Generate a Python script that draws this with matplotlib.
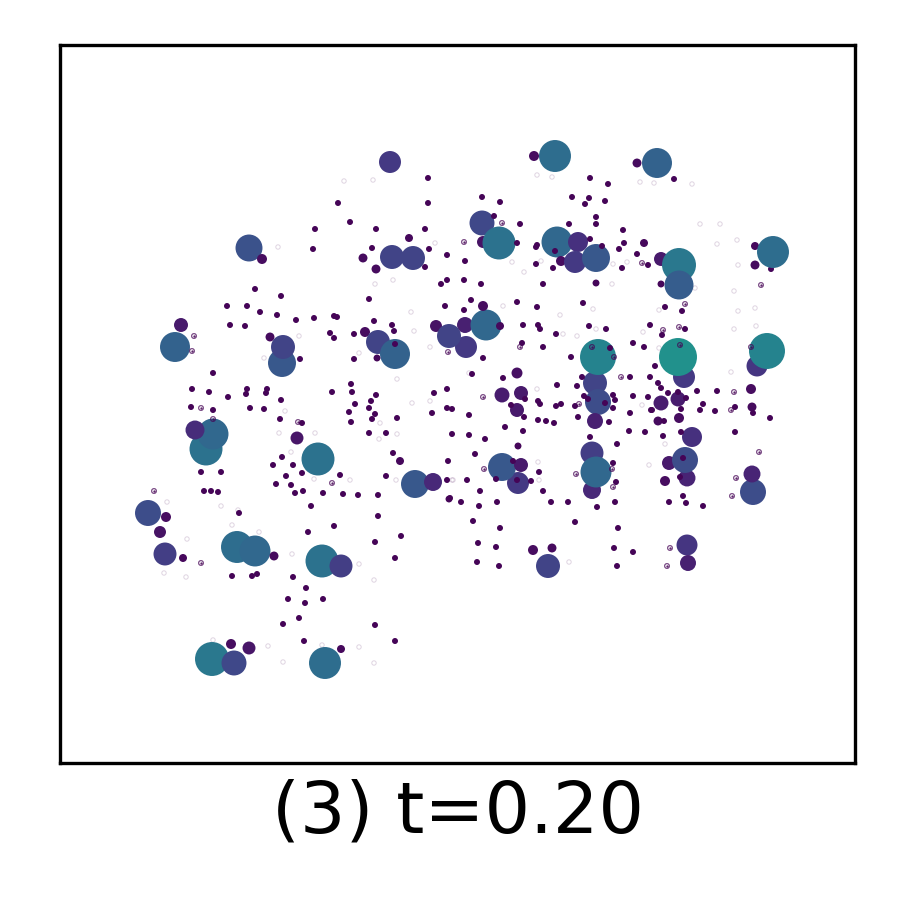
import matplotlib
matplotlib.use("Agg")
import matplotlib.pyplot as plt

# values
# large clusters: weight drives both area and colour
big_x = [390, 249, 262, 392, 413, 409, 363, 376, 181, 175, 270, 282, 283, 300, 365, 378, 395, 394, 377,
         436, 465, 466, 449, 483, 482, 486, 499, 500, 534, 555, 637, 657, 674,
         557, 561, 578, 575, 596, 624, 644, 661, 661, 679, 679, 755, 771, 773, 755, 483,
         595, 598, 598, 757, 767, 684, 678, 517, 502, 521, 517, 751, 752, 661, 678, 658, 596,
         595, 658, 679, 692, 592, 592, 596, 518, 502, 521, 669, 687, 685, 665, 753, 752,
         687, 688, 533, 552, 548, 518, 206, 213, 195, 297, 318, 400, 415, 433, 449,
         148, 166, 160, 165, 183, 237, 255, 274, 322, 341, 212, 234, 231, 249, 325, 341]
big_y = [162, 248, 259, 257, 258, 238, 258, 269, 325, 347, 337, 363, 347, 359, 332, 342, 354, 331, 358,
         326, 325, 347, 336, 242, 223, 325, 243, 326, 156, 156, 163, 163, 179,
         242, 261, 242, 262, 258, 243, 243, 259, 284, 265, 285, 246, 269, 252, 265, 306,
         383, 402, 357, 366, 351, 377, 357, 373, 395, 393, 410, 389, 407, 403, 399, 383, 283,
         421, 421, 418, 437, 453, 490, 472, 483, 467, 465, 463, 478, 460, 481, 492, 474,
         545, 563, 550, 548, 566, 446, 449, 434, 430, 438, 459, 461, 484, 482, 499,
         513, 517, 532, 554, 558, 547, 551, 556, 561, 566, 659, 663, 644, 648, 663, 649]
big_w = [121, 182, 25, 144, 144, 16, 20, 20, 49, 225, 20, 196, 144, 9, 25, 144, 225, 9, 12,
         36, 64, 121, 144, 36, 156, 240, 272, 16, 25, 256, 20, 225, 9,
         240, 25, 100, 121, 196, 9, 16, 49, 12, 289, 210, 16, 9, 256, 20, 25,
         144, 169, 324, 110, 324, 121, 361, 30, 56, 49, 49, 25, 20, 56, 56, 9, 12,
         64, 20, 25, 100, 132, 81, 240, 121, 196, 49, 49, 72, 169, 25, 169, 72,
         110, 64, 25, 20, 144, 12, 272, 240, 90, 42, 272, 16, 196, 81, 12,
         169, 25, 36, 132, 16, 256, 240, 20, 272, 132, 289, 156, 25, 42, 256, 16]

# single small points
dot_x = [428, 428, 338, 350, 315, 376, 425, 313, 372, 429, 447, 425, 447, 441, 255, 281, 369, 227, 247, 260,
         277, 296, 314, 334, 337, 445, 374, 392, 230, 245, 330, 334, 354, 395, 354, 213, 351, 192, 209, 247,
         246, 267, 266, 228, 332, 352, 376, 371, 434, 447, 281, 355, 369, 191, 250, 264, 447, 452, 213,
         349, 375, 372, 397, 432, 280, 302, 351, 369, 386, 452, 393, 448, 282, 273, 293, 302, 286, 340, 386,
         447, 201, 221, 276, 291, 303, 295, 323, 343, 358, 378, 204, 211, 218, 311, 378, 239, 334, 308, 401,
         375, 395, 232, 252, 257, 293, 306, 288, 305, 323, 299, 283, 375, 304, 395,
         590, 608, 482, 500, 572, 589, 585, 605, 596, 494, 520, 569, 596, 623, 590, 619, 637, 602, 536, 537,
         517, 555, 465, 536, 553, 622, 648, 464, 481, 543, 471, 464, 517, 537, 583, 665, 682, 523, 538, 540,
         556, 589, 606, 650, 685, 662, 633, 644, 522, 543, 610, 483, 571, 655, 472, 503, 582, 630, 650, 557,
         577, 661, 668, 678, 697, 717, 633, 648, 686, 525, 538, 540, 561, 556, 575, 584, 588, 605, 613, 615,
         613, 511, 703, 735, 651, 681, 700,
         469, 524, 538, 546, 554, 578, 609, 630, 652, 664, 715, 753, 770, 505, 523, 469, 485, 590, 617,
         629, 645, 663, 681, 735, 475, 513, 613, 683, 539, 467, 496, 517, 531, 616, 680, 480, 543, 450, 461,
         479, 497, 551, 568, 597, 615, 683, 669, 686, 703, 473, 500, 575, 618, 478, 496, 614, 633, 477, 499, 617]
dot_y = [178, 203, 203, 222, 229, 229, 229, 249, 248, 249, 255, 267, 280, 284, 289, 296, 299, 306, 306, 312,
         315, 320, 318, 316, 317, 306, 321, 325, 325, 326, 333, 338, 334, 344, 359, 373, 384, 389, 392, 389,
         394, 389, 393, 397, 392, 392, 395, 401, 393, 389, 400, 404, 408, 407, 408, 409, 408, 409, 410,
         412, 414, 419, 418, 413, 419, 423, 422, 433, 433, 434, 453, 461, 457, 465, 465, 473, 476, 475, 476,
         480, 472, 472, 484, 485, 491, 493, 493, 494, 495, 495, 491, 491, 492, 506, 516, 513, 526, 532, 536,
         542, 558, 576, 576, 574, 577, 588, 599, 603, 599, 618, 624, 625, 641, 641,
         178, 184, 197, 202, 197, 198, 204, 201, 217, 216, 224, 224, 224, 230, 239, 249, 254, 246, 247, 245,
         243, 251, 261, 264, 268, 268, 265, 280, 284, 284, 300, 310, 302, 307, 303, 307, 311, 325, 325, 329,
         334, 326, 329, 325, 329, 335, 343, 347, 343, 347, 348, 358, 357, 366, 374, 378, 377, 377, 377, 385,
         386, 388, 393, 392, 391, 391, 396, 397, 398, 399, 401, 404, 404, 406, 406, 396, 399, 403, 395, 400,
         408, 405, 404, 407, 410, 409, 410,
         415, 417, 420, 421, 423, 417, 422, 413, 410, 421, 411, 413, 418, 427, 431, 435, 439, 437, 444,
         431, 432, 436, 432, 432, 454, 461, 463, 458, 472, 480, 479, 480, 481, 482, 477, 491, 491, 498, 502,
         506, 502, 502, 502, 507, 502, 496, 502, 503, 506, 521, 528, 522, 528, 543, 547, 548, 552, 562, 566, 566]

# points that sit on a dark ring
ring_x = [194, 192, 201, 448, 213, 154, 201, 298, 332, 502, 464, 642, 761, 685, 663, 679, 751, 680, 592, 614,
          520, 621, 483, 734, 579, 484, 576, 612, 613, 759, 732, 667, 670, 736, 731]
ring_y = [336, 351, 408, 352, 419, 491, 563, 422, 483, 223, 242, 263, 285, 304, 330, 327, 347, 345, 347, 357,
          347, 377, 397, 392, 404, 469, 474, 469, 487, 452, 496, 566, 548, 478, 410]

# empty pale rings
pale_x = [344, 373, 278, 435, 393, 375, 411, 414, 359, 264, 397, 299, 430, 412, 430, 285, 279, 315, 291, 314, 350,
          396, 452, 380, 397, 379, 221, 167, 238, 232, 259, 187, 164, 186, 359, 374, 292, 213, 268, 283, 374, 322,
          359, 537, 552, 640, 654, 692, 700, 720, 737, 717, 738, 512, 541, 524, 627, 613, 612, 695, 734, 755, 738,
          659, 593, 503, 560, 596, 563, 577, 643, 734, 756, 659, 731, 469, 537, 642, 665, 649, 538, 539, 453, 569]
pale_y = [181, 180, 247, 243, 280, 284, 312, 331, 353, 358, 379, 336, 347, 403, 401, 411, 433, 433, 452, 479, 480,
          480, 480, 423, 434, 439, 506, 502, 510, 525, 532, 539, 573, 577, 564, 580, 554, 640, 646, 662, 663, 645,
          647, 175, 177, 182, 183, 184, 224, 224, 240, 244, 265, 262, 261, 272, 262, 264, 284, 288, 291, 308, 311,
          310, 309, 306, 315, 329, 334, 336, 332, 329, 326, 348, 372, 373, 389, 405, 444, 465, 462, 480, 480, 562]

title = "(3) t=0.20"

fig = plt.figure(figsize=(3, 3))
ax = fig.add_axes([60 / 900, 1 - 763 / 900, 795 / 900, 718 / 900])

# area is proportional to the weight, colour runs along viridis
AREA = 0.23
VMAX = 722

ax.scatter(pale_x, pale_y, s=1.1, facecolors="none", edgecolors="#440154", linewidths=0.25, alpha=0.16, zorder=2)
ax.scatter(big_x, big_y, s=[w * AREA for w in big_w], c=big_w, cmap="viridis", vmin=0, vmax=VMAX,
           linewidths=0, zorder=3)
ax.scatter(ring_x, ring_y, s=1.3, facecolors="none", edgecolors="#440154", linewidths=0.3, alpha=0.7, zorder=4)
ax.scatter(ring_x, ring_y, s=0.3, color="#440154", linewidths=0, alpha=0.85, zorder=4)
ax.scatter(dot_x, dot_y, s=[9 * AREA] * len(dot_x), c=[6] * len(dot_x), cmap="viridis", vmin=0, vmax=VMAX,
           linewidths=0, zorder=5)

ax.set_xlim(60, 855)
ax.set_ylim(763, 45)
ax.set_xticks([])
ax.set_yticks([])
ax.set_xlabel(title, fontsize=17.2, labelpad=3.7)

fig.savefig("out.png", dpi=300)
